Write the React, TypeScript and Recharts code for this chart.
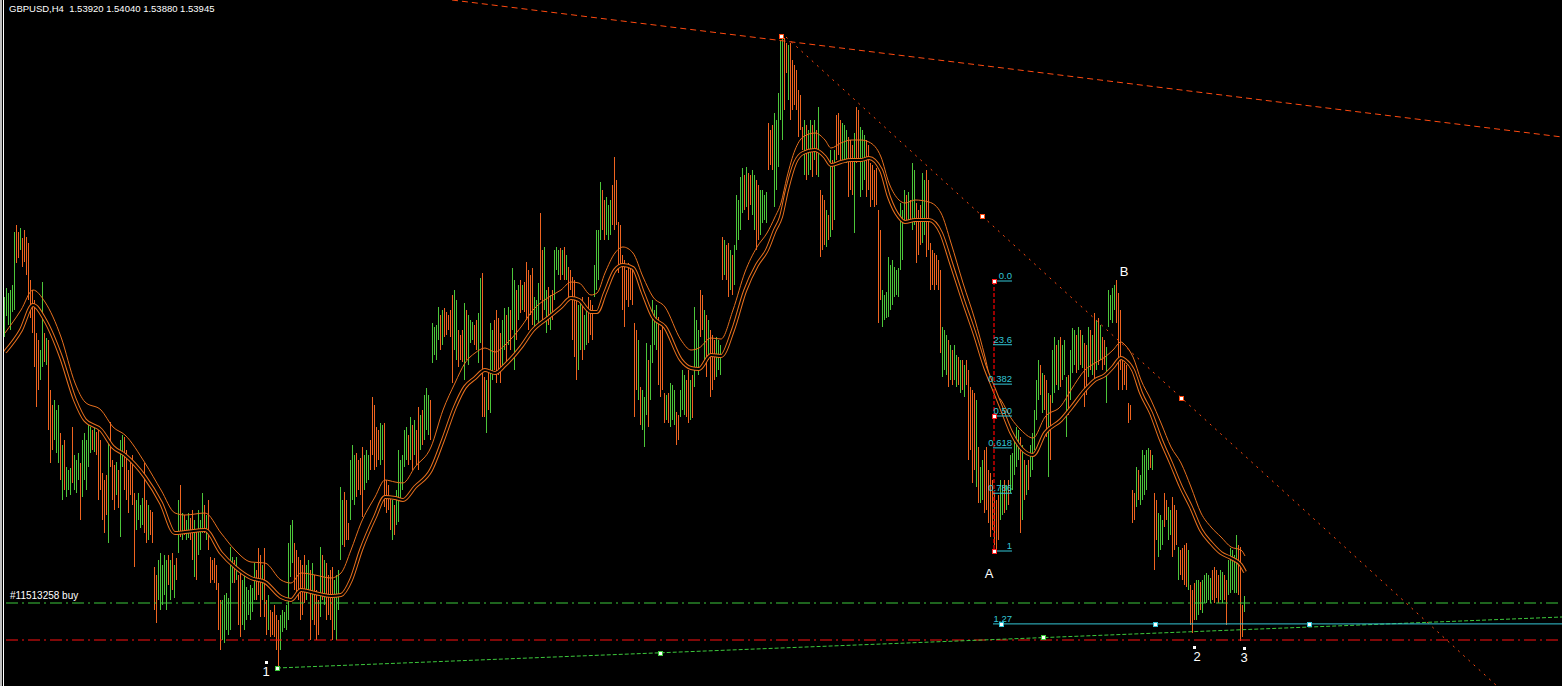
import { ComposedChart, Bar, Line, XAxis, YAxis, ReferenceLine, ReferenceDot } from 'recharts';

const SYMBOL = 'GBPUSD,H4';
const QUOTE = ['1.53920', '1.54040', '1.53880', '1.53945'];

// H4 bars, oldest first (one per candle)
const HIGHS = [
  1.5703, 1.5712, 1.5707, 1.5710, 1.5715, 1.5768, 1.5775, 1.5768, 1.5772, 1.5762,
  1.5770, 1.5763, 1.5757, 1.5720, 1.5710, 1.5700, 1.5667, 1.5660, 1.5650, 1.5718,
  1.5667, 1.5662, 1.5660, 1.5610, 1.5595, 1.5600, 1.5590, 1.5595, 1.5567, 1.5555,
  1.5560, 1.5533, 1.5530, 1.5532, 1.5573, 1.5545, 1.5540, 1.5547, 1.5537, 1.5560,
  1.5567, 1.5560, 1.5577, 1.5573, 1.5570, 1.5572, 1.5568, 1.5570, 1.5560, 1.5527,
  1.5520, 1.5525, 1.5557, 1.5578, 1.5540, 1.5535, 1.5538, 1.5530, 1.5560, 1.5565,
  1.5563, 1.5550, 1.5530, 1.5540, 1.5545, 1.5507, 1.5500, 1.5507, 1.5495, 1.5502,
  1.5537, 1.5500, 1.5495, 1.5490, 1.5488, 1.5433, 1.5425, 1.5440, 1.5447, 1.5435,
  1.5445, 1.5440, 1.5445, 1.5440, 1.5447, 1.5435, 1.5442, 1.5500, 1.5515, 1.5487,
  1.5485, 1.5480, 1.5487, 1.5482, 1.5490, 1.5480, 1.5470, 1.5490, 1.5480, 1.5507,
  1.5495, 1.5485, 1.5500, 1.5443, 1.5440, 1.5442, 1.5435, 1.5417, 1.5400, 1.5400,
  1.5405, 1.5407, 1.5402, 1.5453, 1.5443, 1.5440, 1.5443, 1.5425, 1.5430, 1.5420,
  1.5425, 1.5413, 1.5410, 1.5415, 1.5412, 1.5437, 1.5430, 1.5452, 1.5445, 1.5435,
  1.5452, 1.5400, 1.5405, 1.5390, 1.5388, 1.5395, 1.5385, 1.5380, 1.5385, 1.5390,
  1.5388, 1.5395, 1.5457, 1.5475, 1.5480, 1.5457, 1.5450, 1.5443, 1.5440, 1.5435,
  1.5445, 1.5435, 1.5440, 1.5430, 1.5437, 1.5425, 1.5410, 1.5400, 1.5453, 1.5445,
  1.5440, 1.5437, 1.5425, 1.5430, 1.5433, 1.5420, 1.5425, 1.5430, 1.5513, 1.5500,
  1.5508, 1.5500, 1.5477, 1.5540, 1.5555, 1.5545, 1.5547, 1.5540, 1.5542, 1.5553,
  1.5545, 1.5550, 1.5545, 1.5560, 1.5603, 1.5595, 1.5573, 1.5570, 1.5577, 1.5575,
  1.5577, 1.5520, 1.5515, 1.5503, 1.5500, 1.5495, 1.5510, 1.5550, 1.5540, 1.5545,
  1.5570, 1.5573, 1.5565, 1.5583, 1.5575, 1.5580, 1.5570, 1.5593, 1.5585, 1.5590,
  1.5605, 1.5612, 1.5605, 1.5600, 1.5677, 1.5673, 1.5675, 1.5693, 1.5685, 1.5690,
  1.5692, 1.5688, 1.5685, 1.5690, 1.5705, 1.5710, 1.5700, 1.5670, 1.5665, 1.5670,
  1.5697, 1.5690, 1.5685, 1.5680, 1.5678, 1.5675, 1.5680, 1.5687, 1.5722, 1.5727,
  1.5623, 1.5620, 1.5630, 1.5677, 1.5670, 1.5680, 1.5690, 1.5682, 1.5667, 1.5680,
  1.5692, 1.5685, 1.5693, 1.5690, 1.5732, 1.5720, 1.5710, 1.5715, 1.5720, 1.5715,
  1.5718, 1.5738, 1.5730, 1.5725, 1.5732, 1.5703, 1.5700, 1.5717, 1.5787, 1.5750,
  1.5753, 1.5710, 1.5713, 1.5705, 1.5710, 1.5750, 1.5753, 1.5750, 1.5752, 1.5750,
  1.5753, 1.5745, 1.5733, 1.5730, 1.5723, 1.5720, 1.5700, 1.5695, 1.5700, 1.5703,
  1.5685, 1.5693, 1.5703, 1.5700, 1.5695, 1.5735, 1.5770, 1.5770, 1.5818, 1.5810,
  1.5800, 1.5803, 1.5795, 1.5800, 1.5815, 1.5843, 1.5820, 1.5778, 1.5775, 1.5745,
  1.5740, 1.5730, 1.5737, 1.5735, 1.5730, 1.5677, 1.5670, 1.5660, 1.5613, 1.5610,
  1.5603, 1.5657, 1.5640, 1.5655, 1.5700, 1.5690, 1.5695, 1.5683, 1.5670, 1.5675,
  1.5607, 1.5605, 1.5607, 1.5617, 1.5615, 1.5610, 1.5588, 1.5585, 1.5610, 1.5630,
  1.5625, 1.5620, 1.5630, 1.5620, 1.5625, 1.5693, 1.5680, 1.5670, 1.5710, 1.5705,
  1.5690, 1.5685, 1.5680, 1.5670, 1.5665, 1.5660, 1.5663, 1.5660, 1.5655, 1.5763,
  1.5760, 1.5755, 1.5757, 1.5750, 1.5745, 1.5755, 1.5805, 1.5800, 1.5823, 1.5832,
  1.5825, 1.5833, 1.5827, 1.5825, 1.5830, 1.5825, 1.5820, 1.5815, 1.5810, 1.5810,
  1.5805, 1.5808, 1.5877, 1.5870, 1.5875, 1.5887, 1.5880, 1.5907, 1.5960, 1.5965,
  1.5962, 1.5957, 1.5955, 1.5957, 1.5940, 1.5935, 1.5930, 1.5910, 1.5905, 1.5873,
  1.5880, 1.5875, 1.5870, 1.5880, 1.5875, 1.5880, 1.5870, 1.5893, 1.5810, 1.5805,
  1.5800, 1.5790, 1.5785, 1.5850, 1.5840, 1.5850, 1.5885, 1.5887, 1.5880, 1.5877,
  1.5875, 1.5870, 1.5863, 1.5860, 1.5855, 1.5867, 1.5893, 1.5890, 1.5873, 1.5870,
  1.5865, 1.5860, 1.5855, 1.5837, 1.5835, 1.5830, 1.5832, 1.5790, 1.5770, 1.5710,
  1.5705, 1.5708, 1.5743, 1.5735, 1.5740, 1.5733, 1.5730, 1.5732, 1.5797, 1.5790,
  1.5810, 1.5805, 1.5808, 1.5800, 1.5837, 1.5830, 1.5797, 1.5790, 1.5795, 1.5827,
  1.5820, 1.5830, 1.5820, 1.5757, 1.5750, 1.5747, 1.5745, 1.5740, 1.5730, 1.5673,
  1.5670, 1.5665, 1.5660, 1.5655, 1.5650, 1.5655, 1.5645, 1.5643, 1.5640, 1.5640,
  1.5635, 1.5640, 1.5630, 1.5613, 1.5610, 1.5607, 1.5600, 1.5553, 1.5533, 1.5540,
  1.5550, 1.5553, 1.5530, 1.5527, 1.5520, 1.5507, 1.5500, 1.5505, 1.5520, 1.5515,
  1.5520, 1.5515, 1.5520, 1.5545, 1.5547, 1.5560, 1.5573, 1.5570, 1.5563, 1.5555,
  1.5540, 1.5535, 1.5540, 1.5555, 1.5567, 1.5590, 1.5620, 1.5640, 1.5635, 1.5627,
  1.5625, 1.5620, 1.5607, 1.5605, 1.5650, 1.5663, 1.5655, 1.5660, 1.5663, 1.5655,
  1.5660, 1.5623, 1.5625, 1.5650, 1.5672, 1.5670, 1.5665, 1.5673, 1.5670, 1.5665,
  1.5657, 1.5655, 1.5673, 1.5670, 1.5665, 1.5687, 1.5680, 1.5682, 1.5675, 1.5663,
  1.5660, 1.5653, 1.5710, 1.5705, 1.5712, 1.5715, 1.5720, 1.5707, 1.5690, 1.5640,
  1.5637, 1.5635, 1.5597, 1.5595, 1.5510, 1.5507, 1.5533, 1.5530, 1.5525, 1.5550,
  1.5545, 1.5550, 1.5552, 1.5550, 1.5545, 1.5507, 1.5500, 1.5487, 1.5485, 1.5480,
  1.5507, 1.5500, 1.5493, 1.5490, 1.5503, 1.5495, 1.5490, 1.5453, 1.5450, 1.5452,
  1.5455, 1.5457, 1.5450, 1.5415, 1.5410, 1.5417, 1.5420, 1.5420, 1.5418, 1.5420,
  1.5425, 1.5427, 1.5425, 1.5422, 1.5430, 1.5433, 1.5430, 1.5425, 1.5430, 1.5428,
  1.5425, 1.5420, 1.5440, 1.5452, 1.5450, 1.5445, 1.5465, 1.5455, 1.5453, 1.5395,
  1.5404,
];

const LOWS = [
  1.5663, 1.5684, 1.5675, 1.5670, 1.5688, 1.5690, 1.5737, 1.5742, 1.5750, 1.5733,
  1.5738, 1.5725, 1.5700, 1.5682, 1.5667, 1.5633, 1.5593, 1.5610, 1.5620, 1.5633,
  1.5638, 1.5635, 1.5570, 1.5537, 1.5550, 1.5560, 1.5547, 1.5537, 1.5520, 1.5500,
  1.5510, 1.5503, 1.5510, 1.5505, 1.5517, 1.5510, 1.5507, 1.5520, 1.5480, 1.5503,
  1.5520, 1.5510, 1.5533, 1.5547, 1.5550, 1.5548, 1.5545, 1.5500, 1.5510, 1.5480,
  1.5467, 1.5485, 1.5457, 1.5533, 1.5500, 1.5490, 1.5505, 1.5492, 1.5463, 1.5533,
  1.5510, 1.5500, 1.5487, 1.5505, 1.5495, 1.5433, 1.5470, 1.5480, 1.5472, 1.5475,
  1.5467, 1.5457, 1.5460, 1.5465, 1.5457, 1.5390, 1.5377, 1.5400, 1.5390, 1.5395,
  1.5405, 1.5390, 1.5415, 1.5400, 1.5410, 1.5402, 1.5420, 1.5447, 1.5463, 1.5460,
  1.5465, 1.5460, 1.5462, 1.5460, 1.5440, 1.5423, 1.5420, 1.5445, 1.5450, 1.5467,
  1.5467, 1.5460, 1.5450, 1.5417, 1.5420, 1.5417, 1.5410, 1.5370, 1.5350, 1.5360,
  1.5357, 1.5370, 1.5365, 1.5370, 1.5417, 1.5417, 1.5420, 1.5375, 1.5363, 1.5375,
  1.5370, 1.5380, 1.5385, 1.5380, 1.5388, 1.5400, 1.5400, 1.5405, 1.5383, 1.5400,
  1.5383, 1.5365, 1.5370, 1.5363, 1.5365, 1.5363, 1.5350, 1.5332, 1.5350, 1.5368,
  1.5372, 1.5370, 1.5380, 1.5423, 1.5437, 1.5410, 1.5407, 1.5400, 1.5380, 1.5385,
  1.5397, 1.5400, 1.5410, 1.5360, 1.5380, 1.5375, 1.5360, 1.5365, 1.5383, 1.5400,
  1.5395, 1.5380, 1.5385, 1.5380, 1.5360, 1.5370, 1.5360, 1.5390, 1.5440, 1.5455,
  1.5453, 1.5460, 1.5460, 1.5480, 1.5500, 1.5495, 1.5503, 1.5510, 1.5505, 1.5483,
  1.5510, 1.5517, 1.5520, 1.5530, 1.5545, 1.5530, 1.5533, 1.5540, 1.5535, 1.5540,
  1.5493, 1.5487, 1.5490, 1.5470, 1.5460, 1.5465, 1.5475, 1.5478, 1.5500, 1.5510,
  1.5533, 1.5540, 1.5535, 1.5540, 1.5530, 1.5545, 1.5535, 1.5530, 1.5550, 1.5555,
  1.5560, 1.5570, 1.5565, 1.5560, 1.5637, 1.5645, 1.5640, 1.5660, 1.5650, 1.5655,
  1.5663, 1.5665, 1.5670, 1.5663, 1.5617, 1.5650, 1.5640, 1.5633, 1.5640, 1.5638,
  1.5620, 1.5640, 1.5635, 1.5657, 1.5660, 1.5655, 1.5650, 1.5637, 1.5657, 1.5583,
  1.5583, 1.5567, 1.5590, 1.5587, 1.5620, 1.5630, 1.5617, 1.5625, 1.5617, 1.5635,
  1.5650, 1.5637, 1.5655, 1.5650, 1.5670, 1.5630, 1.5660, 1.5680, 1.5687, 1.5690,
  1.5688, 1.5680, 1.5670, 1.5685, 1.5675, 1.5673, 1.5680, 1.5677, 1.5700, 1.5677,
  1.5690, 1.5667, 1.5675, 1.5670, 1.5680, 1.5700, 1.5730, 1.5725, 1.5720, 1.5725,
  1.5720, 1.5720, 1.5703, 1.5710, 1.5660, 1.5643, 1.5620, 1.5630, 1.5650, 1.5640,
  1.5650, 1.5655, 1.5657, 1.5665, 1.5660, 1.5703, 1.5710, 1.5720, 1.5760, 1.5770,
  1.5760, 1.5765, 1.5760, 1.5765, 1.5775, 1.5770, 1.5775, 1.5727, 1.5735, 1.5690,
  1.5673, 1.5700, 1.5693, 1.5700, 1.5695, 1.5583, 1.5610, 1.5600, 1.5575, 1.5570,
  1.5553, 1.5585, 1.5573, 1.5600, 1.5637, 1.5655, 1.5650, 1.5615, 1.5603, 1.5610,
  1.5577, 1.5580, 1.5577, 1.5573, 1.5580, 1.5575, 1.5555, 1.5560, 1.5583, 1.5590,
  1.5585, 1.5583, 1.5577, 1.5580, 1.5582, 1.5613, 1.5630, 1.5625, 1.5663, 1.5670,
  1.5635, 1.5623, 1.5640, 1.5603, 1.5610, 1.5620, 1.5623, 1.5630, 1.5625, 1.5720,
  1.5725, 1.5720, 1.5703, 1.5710, 1.5705, 1.5715, 1.5750, 1.5760, 1.5770, 1.5787,
  1.5790, 1.5793, 1.5780, 1.5795, 1.5785, 1.5770, 1.5750, 1.5760, 1.5765, 1.5777,
  1.5780, 1.5777, 1.5830, 1.5835, 1.5830, 1.5793, 1.5810, 1.5833, 1.5880, 1.5860,
  1.5890, 1.5927, 1.5900, 1.5880, 1.5890, 1.5895, 1.5890, 1.5863, 1.5870, 1.5850,
  1.5825, 1.5820, 1.5825, 1.5830, 1.5823, 1.5840, 1.5825, 1.5823, 1.5743, 1.5750,
  1.5755, 1.5753, 1.5760, 1.5763, 1.5770, 1.5780, 1.5840, 1.5845, 1.5840, 1.5837,
  1.5840, 1.5837, 1.5803, 1.5810, 1.5805, 1.5767, 1.5837, 1.5840, 1.5803, 1.5810,
  1.5820, 1.5803, 1.5810, 1.5793, 1.5800, 1.5793, 1.5795, 1.5677, 1.5700, 1.5673,
  1.5680, 1.5682, 1.5683, 1.5690, 1.5695, 1.5703, 1.5705, 1.5703, 1.5730, 1.5740,
  1.5777, 1.5780, 1.5777, 1.5780, 1.5770, 1.5775, 1.5737, 1.5745, 1.5755, 1.5757,
  1.5765, 1.5743, 1.5750, 1.5710, 1.5715, 1.5710, 1.5715, 1.5710, 1.5647, 1.5623,
  1.5630, 1.5625, 1.5613, 1.5620, 1.5615, 1.5620, 1.5613, 1.5615, 1.5607, 1.5610,
  1.5603, 1.5615, 1.5540, 1.5550, 1.5517, 1.5530, 1.5513, 1.5497, 1.5497, 1.5500,
  1.5487, 1.5490, 1.5477, 1.5463, 1.5470, 1.5455, 1.5447, 1.5460, 1.5480, 1.5485,
  1.5487, 1.5490, 1.5495, 1.5507, 1.5510, 1.5525, 1.5533, 1.5540, 1.5467, 1.5480,
  1.5500, 1.5505, 1.5510, 1.5523, 1.5530, 1.5550, 1.5580, 1.5600, 1.5605, 1.5587,
  1.5590, 1.5563, 1.5523, 1.5540, 1.5597, 1.5607, 1.5615, 1.5610, 1.5613, 1.5620,
  1.5625, 1.5563, 1.5585, 1.5600, 1.5627, 1.5635, 1.5627, 1.5630, 1.5635, 1.5632,
  1.5593, 1.5605, 1.5623, 1.5630, 1.5625, 1.5620, 1.5630, 1.5635, 1.5640, 1.5630,
  1.5635, 1.5597, 1.5673, 1.5680, 1.5677, 1.5690, 1.5677, 1.5610, 1.5630, 1.5610,
  1.5615, 1.5610, 1.5577, 1.5580, 1.5477, 1.5480, 1.5493, 1.5500, 1.5495, 1.5500,
  1.5505, 1.5510, 1.5530, 1.5532, 1.5530, 1.5430, 1.5460, 1.5443, 1.5450, 1.5455,
  1.5473, 1.5480, 1.5460, 1.5465, 1.5443, 1.5450, 1.5455, 1.5420, 1.5425, 1.5420,
  1.5415, 1.5413, 1.5410, 1.5375, 1.5367, 1.5380, 1.5380, 1.5385, 1.5390, 1.5387,
  1.5397, 1.5397, 1.5400, 1.5397, 1.5400, 1.5397, 1.5402, 1.5397, 1.5400, 1.5397,
  1.5400, 1.5375, 1.5405, 1.5407, 1.5410, 1.5407, 1.5407, 1.5405, 1.5359, 1.5363,
  1.5388,
];

// u = bull candle, d = bear candle
const DIRS = [
  'uuuuuuddud', 'dddddddduu', 'duddduuudu', 'duuuduuudu', 'uuuududddd',
  'dduddduduu', 'dddddduuuu', 'ddudddduuu', 'uududududu', 'duudduduuu',
  'dudddddddu', 'uuuuududdu', 'uuuuuudddu', 'dduddddduu', 'uuuuuddddd',
  'duududddud', 'udddduuuuu', 'ddduuudddd', 'uuuddddduu', 'dddduduuuu',
  'uudududdud', 'uuuduuuudu', 'ddddduuddd', 'uduuudduud', 'duduuddddu',
  'ududuududu', 'ddddduuudd', 'uududuuudu', 'duddddduud', 'uuddduuuud',
  'duuudddddd', 'dddddddudu', 'uuduuuuddd', 'duduuudduu', 'udduduuudd',
  'ududdduuud', 'udduduuuuu', 'dudduudduu', 'uuddduuuuu', 'dduddddddd',
  'uduudududd', 'dudududddu', 'uudddudduu', 'uddddddddu', 'uuuuuuuuuu',
  'ududuudddu', 'uddddddddu', 'uududuudud', 'uddddduduu', 'dddddddduu',
  'duduuuuudu', 'duduuuuudu', 'dduduududu', 'uuduuududu', 'ddudududud',
  'duuuuudddd', 'dddddduduu', 'uuududduuu', 'dduudddudd', 'dduddduudu',
  'uuuudddduu', 'dduuuuuddd', 'u',
].join('');

// moving averages, read at these bar numbers
const MA_BARS = [
  0, 8, 14, 20, 28, 35, 40, 48, 54, 60, 70, 78, 85, 90, 100, 108, 115, 123, 130, 138,
  143, 148, 155, 163, 168, 173, 178, 185, 190, 195, 199, 205, 213, 219, 225, 230, 235, 240, 245, 250,
  258, 264, 272, 278, 283, 287, 293, 296, 300, 305, 309, 314, 319, 324, 330, 338, 343, 347, 353, 358,
  364, 370, 376, 381, 385, 388, 391, 395, 399, 405, 410, 413, 418, 423, 428, 432, 438, 442, 447, 450,
  455, 462, 468, 473, 479, 485, 490, 494, 498, 503, 508, 514, 520, 528, 533, 540, 545, 550, 554, 558,
  560, 564, 568, 573, 578, 583, 588, 593, 598, 603, 608, 613, 618, 620,
];
const MA_SLOW = [
  1.5667, 1.5690, 1.5710, 1.5698, 1.5663, 1.5617, 1.5598, 1.5590, 1.5573, 1.5565,
  1.5537, 1.5510, 1.5487, 1.5485, 1.5487, 1.5467, 1.5450, 1.5438, 1.5437, 1.5420,
  1.5417, 1.5427, 1.5425, 1.5422, 1.5427, 1.5450, 1.5477, 1.5503, 1.5520, 1.5518,
  1.5517, 1.5533, 1.5553, 1.5590, 1.5617, 1.5637, 1.5647, 1.5652, 1.5648, 1.5655,
  1.5673, 1.5690, 1.5703, 1.5710, 1.5718, 1.5717, 1.5705, 1.5707, 1.5727, 1.5747,
  1.5753, 1.5747, 1.5723, 1.5703, 1.5693, 1.5660, 1.5650, 1.5652, 1.5662, 1.5661,
  1.5690, 1.5728, 1.5753, 1.5767, 1.5783, 1.5797, 1.5823, 1.5850, 1.5863, 1.5867,
  1.5860, 1.5852, 1.5857, 1.5860, 1.5860, 1.5858, 1.5843, 1.5817, 1.5800, 1.5797,
  1.5800, 1.5798, 1.5787, 1.5757, 1.5717, 1.5680, 1.5643, 1.5610, 1.5600, 1.5582,
  1.5570, 1.5562, 1.5583, 1.5594, 1.5610, 1.5630, 1.5637, 1.5643, 1.5650, 1.5658,
  1.5655, 1.5643, 1.5620, 1.5600, 1.5577, 1.5553, 1.5537, 1.5513, 1.5487, 1.5473,
  1.5463, 1.5453, 1.5450, 1.5444,
];
const MA_FAST = [
  1.5648, 1.5670, 1.5695, 1.5680, 1.5643, 1.5600, 1.5580, 1.5570, 1.5553, 1.5545,
  1.5523, 1.5497, 1.5467, 1.5468, 1.5470, 1.5447, 1.5433, 1.5422, 1.5418, 1.5403,
  1.5400, 1.5410, 1.5407, 1.5404, 1.5405, 1.5420, 1.5450, 1.5483, 1.5503, 1.5502,
  1.5500, 1.5513, 1.5530, 1.5560, 1.5593, 1.5613, 1.5622, 1.5630, 1.5627, 1.5635,
  1.5653, 1.5670, 1.5683, 1.5693, 1.5702, 1.5700, 1.5688, 1.5688, 1.5707, 1.5730,
  1.5735, 1.5732, 1.5707, 1.5683, 1.5673, 1.5640, 1.5632, 1.5631, 1.5645, 1.5644,
  1.5670, 1.5709, 1.5735, 1.5750, 1.5770, 1.5783, 1.5810, 1.5837, 1.5847, 1.5850,
  1.5843, 1.5835, 1.5838, 1.5840, 1.5840, 1.5842, 1.5830, 1.5803, 1.5783, 1.5778,
  1.5780, 1.5780, 1.5767, 1.5737, 1.5700, 1.5665, 1.5633, 1.5613, 1.5593, 1.5568,
  1.5552, 1.5545, 1.5567, 1.5580, 1.5592, 1.5610, 1.5620, 1.5625, 1.5633, 1.5642,
  1.5640, 1.5630, 1.5607, 1.5587, 1.5560, 1.5537, 1.5513, 1.5493, 1.5470, 1.5457,
  1.5447, 1.5442, 1.5435, 1.5428,
];

// order / stop lines
const ORDER_LABEL = '#11513258 buy';
const ORDER_PRICE = 1.5397;
const STOP_PRICE = 1.5360;

// trend lines: [bar, price] end points
const RESIST_LINE = [[223.5, 1.6], [778.5, 1.5863]];
const FALL_LINE = [[390.5, 1.5963], [746, 1.5314]];
const SUPPORT_LINE = [[136, 1.5332], [778.5, 1.5383]];
const FALL_MARKS = [[388, 1.5964], [488.5, 1.5784], [588, 1.5602]];
const SUPPORT_MARKS = [[136, 1.5332], [327.5, 1.5347], [519, 1.5363]];

// fibonacci retracement A leg
const FIB_BAR = 494.5;
const FIB_HIGH = 1.5719;
const FIB_LOW = 1.5449;
const FIB_RATIOS = [0, 0.236, 0.382, 0.5, 0.618, 0.786, 1, 1.27];
const FIB_LABELS = ['0.0', '23.6', '0.382', '0.50', '0.618', '0.786', '1', '1.27'];
const EXT_MARK_BARS = [498, 575, 652];

// wave counts
const WAVE_NAMES = ['1', '2', '3'];
const WAVE_BARS = [130.5, 594.5, 619.5];
const WAVE_PRICES = [1.5338, 1.5353, 1.5352];
const LEG_NAMES = ['A', 'B'];
const LEG_BARS = [492, 559.5];
const LEG_PRICES = [1.5427, 1.5729];

const UP = '#4cc63a';
const DOWN = '#ef6420';
const MA = '#e8701e';
const TREND = '#ff4a10';
const CYAN = '#33c6d6';
const FONT = '"Liberation Sans", Arial, sans-serif';

const rows = HIGHS.map((high, i) => ({ i, range: [LOWS[i], high], dir: DIRS[i] }));
const maRows = MA_BARS.map((i, k) => ({ i, slow: MA_SLOW[k], fast: MA_FAST[k] }));
const fibPrice = (r: number) => FIB_HIGH - r * (FIB_HIGH - FIB_LOW);

const Stick = (props: any) => {
    const { x, y, width, height, payload } = props;
    if (x == null || y == null) return null;
    const cx = Math.floor(x + width / 2);
    return (
        <rect
            x={cx}
            y={Math.round(y)}
            width={1}
            height={Math.max(1, Math.round(height))}
            fill={payload.dir === 'u' ? UP : DOWN}
            shapeRendering="crispEdges"
        />
    );
};

const square = (color: string) => (props: any) => (
    <rect
        x={Math.round(props.cx) - 2}
        y={Math.round(props.cy) - 2}
        width={4}
        height={4}
        fill="#fff"
        stroke={color}
        strokeWidth={1}
        shapeRendering="crispEdges"
    />
);

const seg = (pts: number[][]) => pts.map(([x, y]) => ({ x, y }));

const App = () => {
    return (
        <div style={{ position: 'fixed', left: 0, top: 0, width: 1562, height: 686, background: '#000', overflow: 'hidden' }}>
            <ComposedChart width={1562} height={686} data={rows} margin={{ top: 0, right: 0, bottom: 0, left: 0 }}>
                <XAxis dataKey="i" type="number" domain={[-2.5, 778.5]} hide allowDataOverflow />
                <YAxis type="number" domain={[1.5314, 1.6]} hide allowDataOverflow />

                <ReferenceLine segment={seg([[0.5, ORDER_PRICE], [778.5, ORDER_PRICE]])} stroke="#3cc83c" strokeDasharray="12 4 2 4" ifOverflow="visible" />
                <ReferenceLine segment={seg([[0.5, STOP_PRICE], [778.5, STOP_PRICE]])} stroke="#ff1010" strokeDasharray="12 4 2 4" ifOverflow="visible" />

                <Bar dataKey="range" barSize={1} shape={<Stick />} isAnimationActive={false} />

                <Line data={maRows} dataKey="slow" type="monotone" stroke={MA} strokeWidth={1} dot={false} isAnimationActive={false} />
                <Line data={maRows} dataKey="fast" type="monotone" stroke={MA} strokeWidth={4} dot={false} isAnimationActive={false} />
                <Line data={maRows} dataKey="fast" type="monotone" stroke="#000" strokeWidth={2} dot={false} isAnimationActive={false} />

                <ReferenceLine segment={seg(RESIST_LINE)} stroke={TREND} strokeDasharray="6 4" ifOverflow="visible" />
                <ReferenceLine segment={seg(FALL_LINE)} stroke={TREND} strokeDasharray="2 5" ifOverflow="visible" />
                <ReferenceLine segment={seg(SUPPORT_LINE)} stroke="#3cc83c" strokeDasharray="4 2" ifOverflow="visible" />

                <ReferenceLine segment={seg([[FIB_BAR, FIB_HIGH], [FIB_BAR, FIB_LOW]])} stroke="#ff0000" strokeDasharray="4 2" strokeWidth={1.2} ifOverflow="visible" />
                {FIB_RATIOS.map((r, k) => (
                    <ReferenceLine
                        key={`fib-${k}`}
                        segment={seg([[FIB_BAR - 0.5, fibPrice(r)], [r > 1 ? 778.5 : 503.5, fibPrice(r)]])}
                        stroke={CYAN}
                        ifOverflow="visible"
                    />
                ))}
                {FIB_RATIOS.map((r, k) => (
                    <ReferenceDot
                        key={`fibl-${k}`}
                        x={503.5}
                        y={fibPrice(r)}
                        ifOverflow="visible"
                        shape={(p: any) => (
                            <text x={p.cx} y={p.cy - 2} textAnchor="end" fontSize={9.5} fontFamily={FONT} fill={CYAN}>
                                {FIB_LABELS[k]}
                            </text>
                        )}
                    />
                ))}
                {[0, 0.5, 1].map((r, k) => (
                    <ReferenceDot key={`fm-${k}`} x={FIB_BAR} y={fibPrice(r)} ifOverflow="visible" shape={square('#ff2020')} />
                ))}
                {EXT_MARK_BARS.map((b, k) => (
                    <ReferenceDot key={`em-${k}`} x={b} y={fibPrice(1.27)} ifOverflow="visible" shape={square(CYAN)} />
                ))}
                {FALL_MARKS.map(([b, p], k) => (
                    <ReferenceDot key={`tm-${k}`} x={b} y={p} ifOverflow="visible" shape={square(TREND)} />
                ))}
                {SUPPORT_MARKS.map(([b, p], k) => (
                    <ReferenceDot key={`sm-${k}`} x={b} y={p} ifOverflow="visible" shape={square('#3cc83c')} />
                ))}

                <ReferenceDot
                    x={0.5}
                    y={ORDER_PRICE}
                    ifOverflow="visible"
                    shape={(p: any) => (
                        <text x={p.cx + 4} y={p.cy - 4} fontSize={10} fontFamily={FONT} fill="#fff">
                            {ORDER_LABEL}
                        </text>
                    )}
                />
                {WAVE_NAMES.map((name, k) => (
                    <ReferenceDot
                        key={`w-${k}`}
                        x={WAVE_BARS[k]}
                        y={WAVE_PRICES[k]}
                        ifOverflow="visible"
                        shape={(p: any) => (
                            <g>
                                <rect x={Math.round(p.cx) - 1} y={Math.round(p.cy) - 1} width={3} height={3} fill="#fff" />
                                <text x={p.cx + (k === 1 ? 3 : 0)} y={p.cy + 14} textAnchor="middle" fontSize={13} fontFamily={FONT} fill="#fff">
                                    {name}
                                </text>
                            </g>
                        )}
                    />
                ))}
                {LEG_NAMES.map((name, k) => (
                    <ReferenceDot
                        key={`l-${k}`}
                        x={LEG_BARS[k]}
                        y={LEG_PRICES[k]}
                        ifOverflow="visible"
                        shape={(p: any) => (
                            <text x={p.cx} y={p.cy + 5} textAnchor="middle" fontSize={13} fontFamily={FONT} fill="#fff">
                                {name}
                            </text>
                        )}
                    />
                ))}
            </ComposedChart>
            <div style={{ position: 'absolute', left: 0, top: 0, width: 2, height: 686, background: '#bdbdbd' }} />
            <div style={{ position: 'absolute', left: 3, top: 0, width: 1, height: 686, background: '#ffffff' }} />
            <div style={{ position: 'absolute', left: 9, top: 3, color: '#fff', fontFamily: FONT, fontSize: 9.5, whiteSpace: 'pre', lineHeight: '12px' }}>
                {`${SYMBOL}  ${QUOTE.join(' ')}`}
            </div>
        </div>
    );
};

export default App;
